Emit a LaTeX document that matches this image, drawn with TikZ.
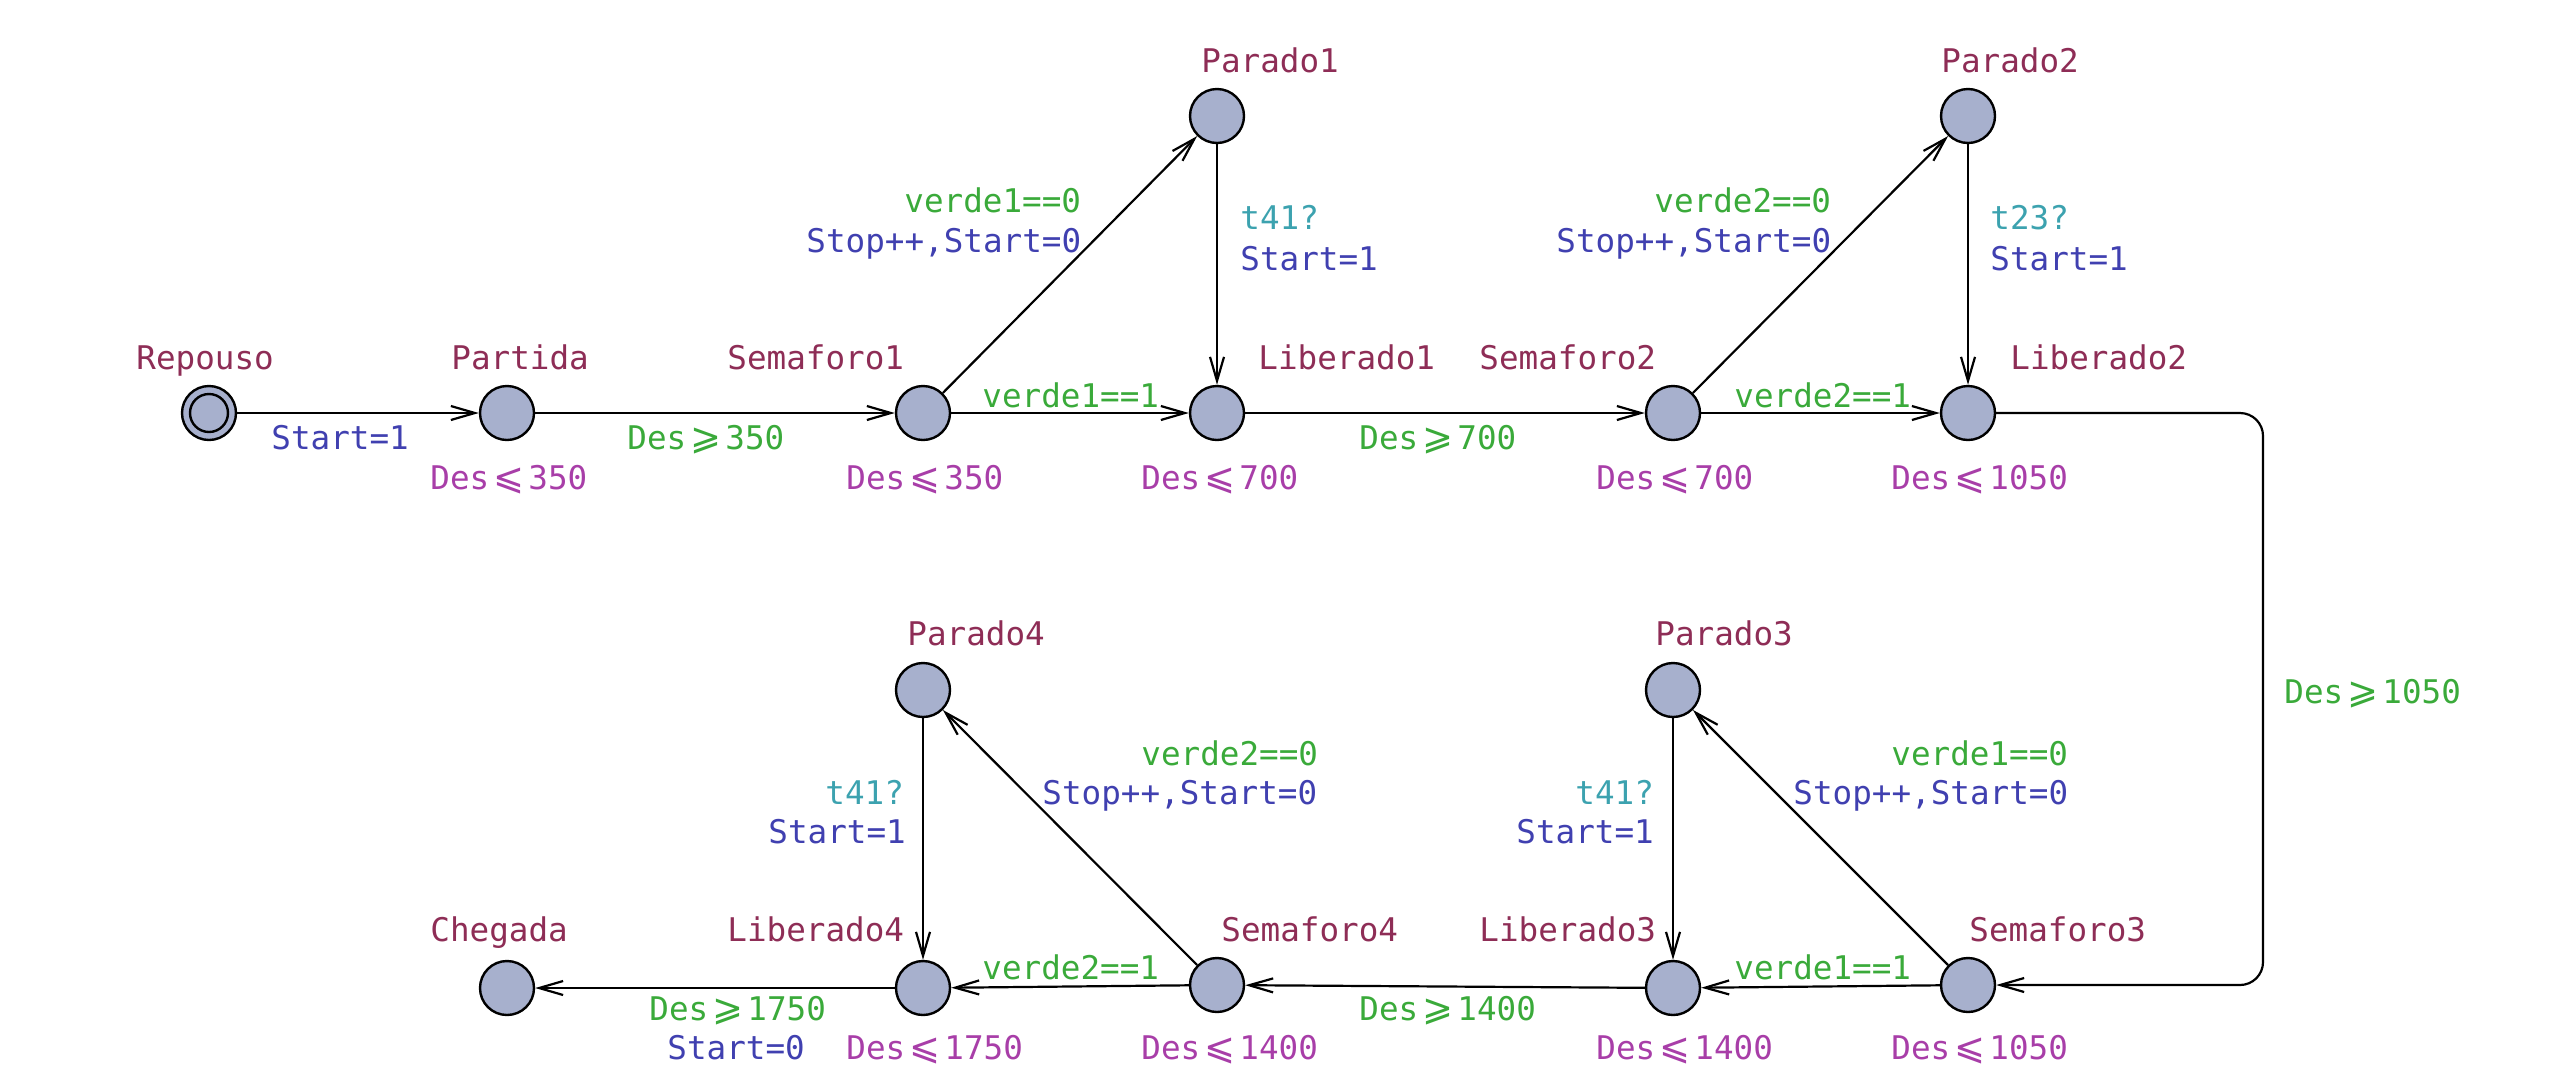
\documentclass[tikz,border=0pt]{standalone}
\usepackage{fontspec}
\usetikzlibrary{arrows.meta}
\newfontfamily\monof{DejaVu Sans Mono}
\newfontfamily\symf{DejaVu Sans}
\definecolor{cname}{RGB}{142,45,86}
\definecolor{cinv}{RGB}{168,62,168}
\definecolor{cguard}{RGB}{58,170,58}
\definecolor{csync}{RGB}{60,162,175}
\definecolor{cupd}{RGB}{64,64,176}
\definecolor{cfill}{RGB}{167,176,205}
\newcommand\LEQ{\makebox[1.2em]{\symf\fontsize{18.5pt}{20pt}\selectfont ⩽}}
\newcommand\GEQ{\makebox[1.2em]{\symf\fontsize{18.5pt}{20pt}\selectfont ⩾}}
\begin{document}
\begin{tikzpicture}[x=0.5pt,y=-0.5pt,
 every node/.style={font=\monof\fontsize{16.3pt}{20pt}\selectfont},
 loc/.style={circle,draw,fill=cfill,line width=1.2pt,minimum size=27pt,inner sep=0pt},
 lbl/.style={anchor=base west,inner sep=0pt},
 nm/.style={lbl,text=cname},
 inv/.style={lbl,text=cinv},
 grd/.style={lbl,text=cguard},
 syn/.style={lbl,text=csync},
 upd/.style={lbl,text=cupd},
 arr/.style={line width=1.1pt,-{Straight Barb[length=12pt,width=7pt,line width=1.1pt]}}]
\useasboundingbox (0,0) rectangle (2562,1077);
% locations
\node[loc] (Repouso) at (209,413) {};
\draw[line width=1.2pt] (Repouso.center) circle (19);
\node[loc] (Partida) at (507,413) {};
\node[loc] (Semaforo1) at (923,413) {};
\node[loc] (Liberado1) at (1217,413) {};
\node[loc] (Semaforo2) at (1673,413) {};
\node[loc] (Liberado2) at (1968,413) {};
\node[loc] (Parado1) at (1217,116) {};
\node[loc] (Parado2) at (1968,116) {};
\node[loc] (Parado4) at (923,690) {};
\node[loc] (Parado3) at (1673,690) {};
\node[loc] (Chegada) at (507,988) {};
\node[loc] (Liberado4) at (923,988) {};
\node[loc] (Semaforo4) at (1217,985) {};
\node[loc] (Liberado3) at (1673,988) {};
\node[loc] (Semaforo3) at (1968,985) {};
% names
\node[nm] (nRepouso) at (136,369) {Repouso};
\node[nm] (nPartida) at (451,369) {Partida};
\node[nm] (nSemaforo1) at (727,369) {Semaforo1};
\node[nm] (nLiberado1) at (1258,369) {Liberado1};
\node[nm] (nSemaforo2) at (1479,369) {Semaforo2};
\node[nm] (nLiberado2) at (2010,369) {Liberado2};
\node[nm] (nParado1) at (1201,72) {Parado1};
\node[nm] (nParado2) at (1941,72) {Parado2};
\node[nm] (nParado4) at (907,645) {Parado4};
\node[nm] (nParado3) at (1655,645) {Parado3};
\node[nm] (nChegada) at (430,941) {Chegada};
\node[nm] (nLiberado4) at (727,941) {Liberado4};
\node[nm] (nSemaforo4) at (1221,941) {Semaforo4};
\node[nm] (nLiberado3) at (1479,941) {Liberado3};
\node[nm] (nSemaforo3) at (1969,941) {Semaforo3};
% invariants
\node[inv] (iPartida) at (430,489) {Des\LEQ 350};
\node[inv] (iSemaforo1) at (846,489) {Des\LEQ 350};
\node[inv] (iLiberado1) at (1141,489) {Des\LEQ 700};
\node[inv] (iSemaforo2) at (1596,489) {Des\LEQ 700};
\node[inv] (iLiberado2) at (1891,489) {Des\LEQ 1050};
\node[inv] (iLiberado4) at (846,1059) {Des\LEQ 1750};
\node[inv] (iSemaforo4) at (1141,1059) {Des\LEQ 1400};
\node[inv] (iLiberado3) at (1596,1059) {Des\LEQ 1400};
\node[inv] (iSemaforo3) at (1891,1059) {Des\LEQ 1050};
% edges
\coordinate (c1) at (2263,413);
\coordinate (c2) at (2263,985);
\draw[arr] (Repouso) -- (Partida);
\draw[arr] (Partida) -- (Semaforo1);
\draw[arr] (Semaforo1) -- (Liberado1);
\draw[arr] (Semaforo1) -- (Parado1);
\draw[arr] (Parado1) -- (Liberado1);
\draw[arr] (Liberado1) -- (Semaforo2);
\draw[arr] (Semaforo2) -- (Liberado2);
\draw[arr] (Semaforo2) -- (Parado2);
\draw[arr] (Parado2) -- (Liberado2);
\draw[arr,rounded corners=11.5pt] (Liberado2) -- (c1) -- (c2) -- (Semaforo3);
\draw[arr] (Semaforo3) -- (Liberado3);
\draw[arr] (Semaforo3) -- (Parado3);
\draw[arr] (Parado3) -- (Liberado3);
\draw[arr] (Liberado3) -- (Semaforo4);
\draw[arr] (Semaforo4) -- (Liberado4);
\draw[arr] (Semaforo4) -- (Parado4);
\draw[arr] (Parado4) -- (Liberado4);
\draw[arr] (Liberado4) -- (Chegada);
% edge labels
\node[upd] (e1) at (271,449) {Start=1};
\node[grd] (e2) at (627,449) {Des\GEQ 350};
\node[grd] (e3) at (982,407) {verde1==1};
\node[grd] (e4) at (904,212) {verde1==0};
\node[upd] (e5) at (806,252) {Stop++,Start=0};
\node[syn] (e6) at (1240,229) {t41?};
\node[upd] (e7) at (1240,270) {Start=1};
\node[grd] (e8) at (1359,449) {Des\GEQ 700};
\node[grd] (e9) at (1734,407) {verde2==1};
\node[grd] (e10) at (1654,212) {verde2==0};
\node[upd] (e11) at (1556,252) {Stop++,Start=0};
\node[syn] (e12) at (1990,229) {t23?};
\node[upd] (e13) at (1990,270) {Start=1};
\node[grd] (e14) at (2284,703) {Des\GEQ 1050};
\node[grd] (e15) at (1891,765) {verde1==0};
\node[upd] (e16) at (1793,804) {Stop++,Start=0};
\node[syn] (e17) at (1575,804) {t41?};
\node[upd] (e18) at (1516,843) {Start=1};
\node[grd] (e19) at (1734,979) {verde1==1};
\node[grd] (e20) at (1359,1020) {Des\GEQ 1400};
\node[grd] (e21) at (1141,765) {verde2==0};
\node[upd] (e22) at (1042,804) {Stop++,Start=0};
\node[syn] (e23) at (825,804) {t41?};
\node[upd] (e24) at (768,843) {Start=1};
\node[grd] (e25) at (982,979) {verde2==1};
\node[grd] (e26) at (649,1020) {Des\GEQ 1750};
\node[upd] (e27) at (667,1059) {Start=0};
\end{tikzpicture}
\end{document}
